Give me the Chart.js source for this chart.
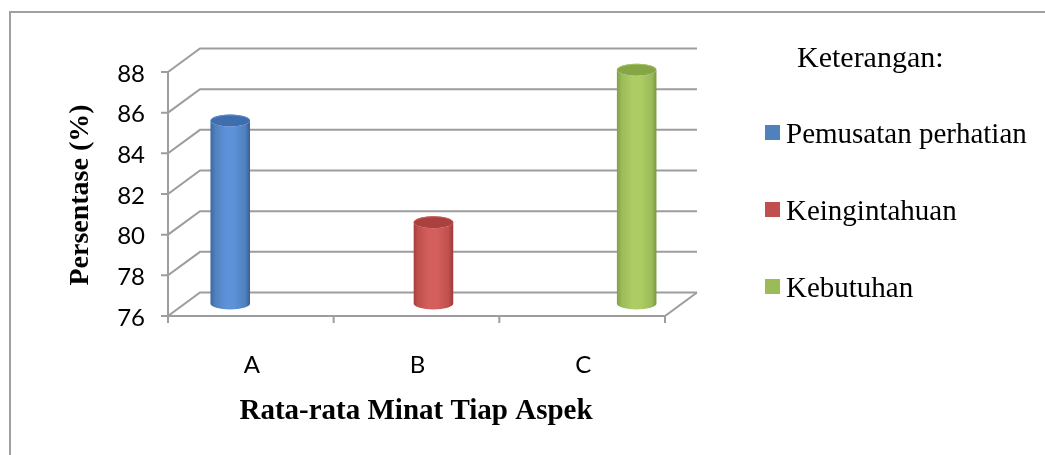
<!DOCTYPE html>
<html>
<head>
<meta charset="utf-8">
<script src="https://cdn.jsdelivr.net/npm/chart.js@4.4.1/dist/chart.umd.min.js"></script>
<style>
  html, body { margin: 0; padding: 0; background: #ffffff; }
  #wrap { width: 1045px; height: 455px; position: relative; }
</style>
</head>
<body>
<div id="wrap"><canvas id="chart" width="1045" height="455"></canvas></div>
<script>
// Category labels along the floor
const categories = ['A', 'B', 'C'];
// Series names (legend) and their average values per aspect
const seriesNames = ['Pemusatan perhatian', 'Keingintahuan', 'Kebutuhan'];
const pemusatanPerhatian = [85, null, null];
const keingintahuan = [null, 80, null];
const kebutuhan = [null, null, 87.5];
// Value axis ticks
const yTicks = [76, 78, 80, 82, 84, 86, 88];

const legendTitle = 'Keterangan:';
const yTitle = 'Persentase (%)';
const xTitle = 'Rata-rata Minat Tiap Aspek';

// Series palette: base swatch, cylinder side shading, top cap
const palette = [
  { base: '#4f81bd', edgeL: '#3d67a2', light: '#5d91d8', edgeR: '#375e94', cap: '#3f6eae', rim: '#5f8fd0' },
  { base: '#c0504d', edgeL: '#a6403d', light: '#d45e5b', edgeR: '#9c3b38', cap: '#a9423f', rim: '#cf615e' },
  { base: '#9bbb59', edgeL: '#80a043', light: '#adcc64', edgeR: '#7a983e', cap: '#86a646', rim: '#a6c465' }
];

// Depth of the 3D box (back wall offset) and where the bars sit inside it
const DEPTH_X = 32, DEPTH_Y = -23.5, BAR_DEPTH = 0.53;
const GRID = '#9d9d9d';

const box3d = {
  id: 'box3d',
  beforeDraw(chart) {
    const { ctx, chartArea: a, scales: { x, y } } = chart;
    ctx.save();
    // outer frame
    ctx.strokeStyle = '#a0a0a0';
    ctx.lineWidth = 2;
    ctx.beginPath();
    ctx.moveTo(10, 460);
    ctx.lineTo(10, 12);
    ctx.lineTo(1050, 12);
    ctx.stroke();

    ctx.strokeStyle = GRID;
    ctx.lineWidth = 2;
    ctx.lineCap = 'butt';
    // back-wall gridlines and side-wall diagonals
    yTicks.forEach(v => {
      const py = y.getPixelForValue(v);
      ctx.beginPath();
      ctx.moveTo(a.left - 7, py);
      ctx.lineTo(a.left, py);
      ctx.lineTo(a.left + DEPTH_X, py + DEPTH_Y);
      ctx.lineTo(a.right + DEPTH_X, py + DEPTH_Y);
      ctx.stroke();
    });
    // front value axis
    ctx.beginPath();
    ctx.moveTo(a.left, y.getPixelForValue(yTicks[yTicks.length - 1]));
    ctx.lineTo(a.left, a.bottom);
    ctx.stroke();
    // floor front edge and right diagonal
    ctx.beginPath();
    ctx.moveTo(a.left, a.bottom);
    ctx.lineTo(a.right, a.bottom);
    ctx.lineTo(a.right + DEPTH_X, a.bottom + DEPTH_Y);
    ctx.stroke();
    // category separators
    const n = categories.length;
    for (let i = 0; i <= n; i++) {
      const px = a.left + (a.right - a.left) * i / n;
      ctx.beginPath();
      ctx.moveTo(px, a.bottom);
      ctx.lineTo(px, a.bottom + 7);
      ctx.stroke();
    }

    // value tick labels
    ctx.fillStyle = '#000';
    ctx.font = '24px Lato';
    ctx.textAlign = 'right';
    ctx.textBaseline = 'middle';
    yTicks.forEach(v => ctx.fillText(String(v), 145, y.getPixelForValue(v) + 2));

    // category labels
    ctx.textAlign = 'center';
    ctx.textBaseline = 'alphabetic';
    categories.forEach((c, i) => ctx.fillText(c, x.getPixelForValue(i) + 1, 373));

    // axis titles
    ctx.font = 'bold 29px "Liberation Serif"';
    ctx.textBaseline = 'middle';
    ctx.fillText(xTitle, 416, 412);
    ctx.save();
    ctx.translate(81, 195);
    ctx.rotate(-Math.PI / 2);
    ctx.font = 'bold 28px "Liberation Serif"';
    ctx.fillText(yTitle, 0, 0);
    ctx.restore();

    // legend
    ctx.textAlign = 'left';
    ctx.textBaseline = 'alphabetic';
    ctx.font = '30px "Liberation Serif"';
    ctx.fillText(legendTitle, 797, 67);
    ctx.font = '29px "Liberation Serif"';
    seriesNames.forEach((name, i) => {
      const cy = 132 + i * 77;
      ctx.fillStyle = palette[i].base;
      ctx.fillRect(765, cy - 7, 15, 15);
      ctx.fillStyle = '#000';
      ctx.fillText(name, 786, cy + 11);
    });
    ctx.restore();
  },
  beforeDatasetsDraw(chart) {
    const { ctx, scales: { y } } = chart;
    const ox = DEPTH_X * BAR_DEPTH, oy = DEPTH_Y * BAR_DEPTH;
    const floor = y.getPixelForValue(y.min);
    chart.data.datasets.forEach((ds, di) => {
      const meta = chart.getDatasetMeta(di);
      const p = palette[di];
      meta.data.forEach((el, i) => {
        if (ds.data[i] == null) return;
        const cx = el.x + ox;
        const top = el.y + oy;
        const bottom = floor + oy;
        const rx = el.width / 2 + 1;
        const ry = 6;
        ctx.save();
        const g = ctx.createLinearGradient(cx - rx, 0, cx + rx, 0);
        g.addColorStop(0, p.edgeL);
        g.addColorStop(0.12, p.base);
        g.addColorStop(0.38, p.light);
        g.addColorStop(0.6, p.light);
        g.addColorStop(0.88, p.base);
        g.addColorStop(1, p.edgeR);
        ctx.beginPath();
        ctx.moveTo(cx - rx, top);
        ctx.lineTo(cx - rx, bottom);
        ctx.ellipse(cx, bottom, rx, ry, 0, Math.PI, 0, true);
        ctx.lineTo(cx + rx, top);
        ctx.ellipse(cx, top, rx, ry, 0, 0, Math.PI, false);
        ctx.closePath();
        ctx.fillStyle = g;
        ctx.fill();
        // top cap with a soft lighter rim
        ctx.beginPath();
        ctx.ellipse(cx, top, rx, ry, 0, 0, Math.PI * 2);
        ctx.fillStyle = p.cap;
        ctx.fill();
        ctx.beginPath();
        ctx.ellipse(cx, top, rx - 0.5, ry - 0.5, 0, Math.PI * 1.05, Math.PI * 1.95);
        ctx.strokeStyle = p.rim;
        ctx.lineWidth = 1;
        ctx.stroke();
        ctx.restore();
      });
    });
    return false;
  }
};

new Chart(document.getElementById('chart'), {
  type: 'bar',
  data: {
    labels: categories,
    datasets: [
      { label: seriesNames[0], data: pemusatanPerhatian, backgroundColor: palette[0].base },
      { label: seriesNames[1], data: keingintahuan, backgroundColor: palette[1].base },
      { label: seriesNames[2], data: kebutuhan, backgroundColor: palette[2].base }
    ]
  },
  options: {
    responsive: false,
    animation: false,
    layout: { padding: { left: 168, top: 72, right: 380, bottom: 139 } },
    datasets: { bar: { categoryPercentage: 0.68, barPercentage: 1.0 } },
    scales: {
      x: { display: false },
      y: { display: false, min: 76, max: 88, beginAtZero: false }
    },
    plugins: { legend: { display: false }, tooltip: { enabled: false } }
  },
  plugins: [box3d]
});
</script>
</body>
</html>
